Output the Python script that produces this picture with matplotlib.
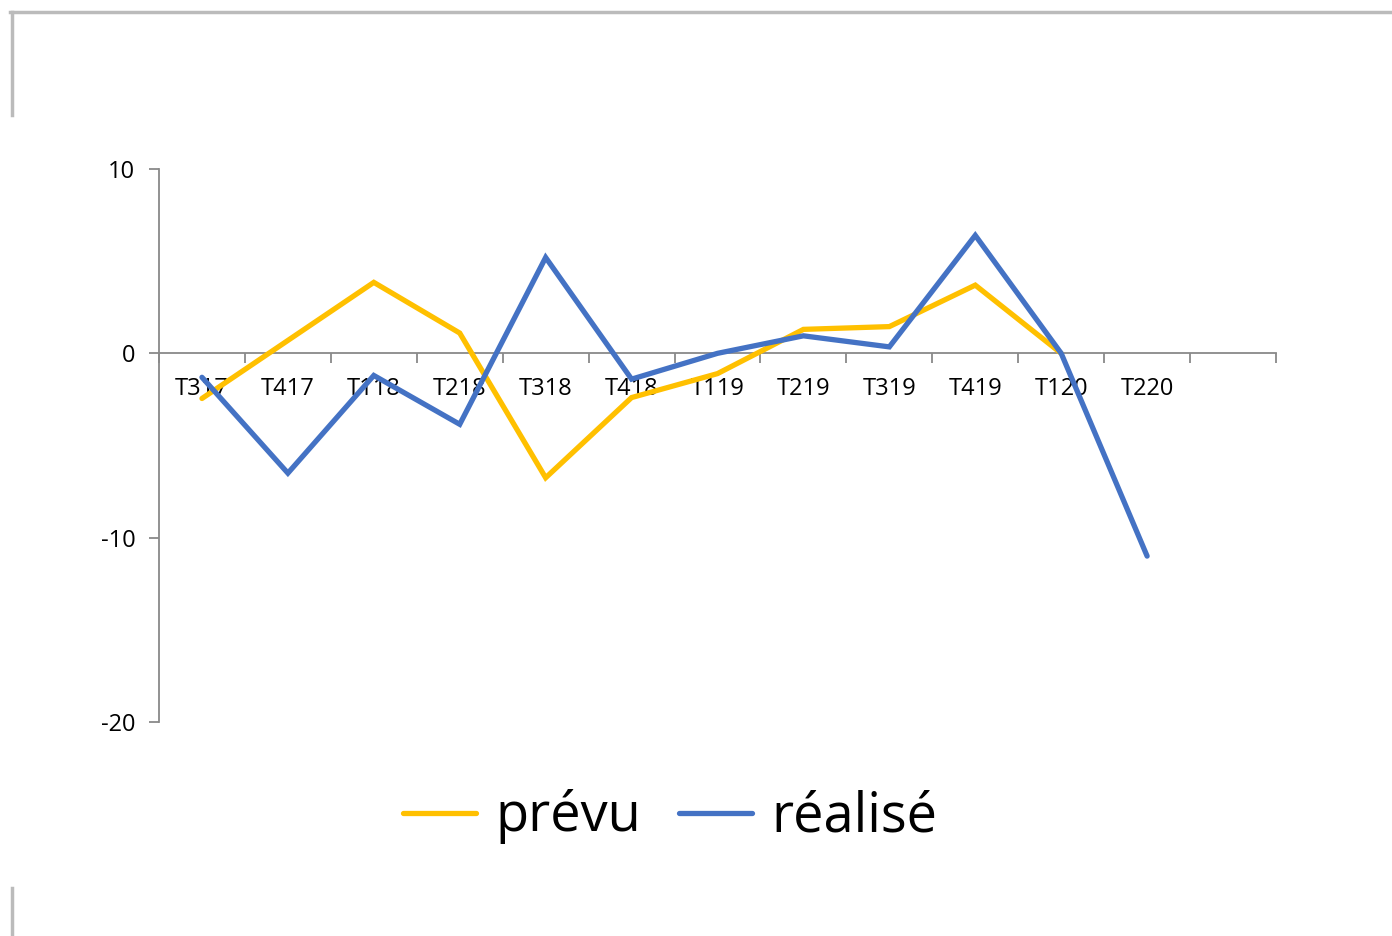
import numpy as np
import matplotlib
matplotlib.use("Agg")
import matplotlib.pyplot as plt
from matplotlib.lines import Line2D

plt.rcParams['font.family'] = ['Open Sans', 'DejaVu Sans']
plt.rcParams['axes.unicode_minus'] = False

quarters = ["T317", "T417", "T118", "T218", "T318", "T418",
            "T119", "T219", "T319", "T419", "T120", "T220", ""]
prevu = [-2.45, 0.7, 3.85, 1.1, -6.75, -2.4, -1.1, 1.3, 1.45, 3.7, 0.0]
realise = [-1.3, -6.5, -1.2, -3.85, 5.2, -1.4, 0.0, 0.95, 0.35, 6.4, 0.0, -11.0]

fig = plt.figure(figsize=(13.92, 9.36), dpi=100)
ax = fig.add_axes([159 / 1392, 1 - 722 / 936, (1276 - 159) / 1392, (722 - 169) / 936])

ax.plot(np.arange(len(prevu)), prevu, color="#FFC000", lw=3.8,
        solid_capstyle="round", solid_joinstyle="miter", label="prévu", zorder=3)
ax.plot(np.arange(len(realise)), realise, color="#4472C4", lw=3.8,
        solid_capstyle="round", solid_joinstyle="miter", label="réalisé", zorder=4)

ax.set_xlim(-0.5, len(quarters) - 0.5)
ax.set_ylim(-20, 10)
ax.set_yticks([-20, -10, 0, 10])

axis_grey = "#898989"
for s in ("top", "right"):
    ax.spines[s].set_visible(False)
ax.spines["bottom"].set_position(("data", 0))
ax.spines["bottom"].set_color(axis_grey)
ax.spines["left"].set_color(axis_grey)
ax.spines["bottom"].set_linewidth(1.3)
ax.spines["left"].set_linewidth(1.3)

ax.set_xticks(np.arange(len(quarters)))
ax.set_xticklabels(quarters)
ax.set_xticks(np.arange(len(quarters) + 1) - 0.5, minor=True)
ax.tick_params(axis="x", which="major", length=0, pad=17, labelsize=17)
ax.tick_params(axis="x", which="minor", length=7, width=1.3, color=axis_grey, direction="out")
ax.tick_params(axis="y", length=7, width=1.3, color=axis_grey, pad=10, labelsize=17)

handles = [Line2D([], [], color="#FFC000", lw=3.8, solid_capstyle="round"),
           Line2D([], [], color="#4472C4", lw=3.8, solid_capstyle="round")]
fig.legend(handles, ["prévu", "réalisé"], loc="center", ncol=2,
           bbox_to_anchor=(670 / 1392, 1 - 817 / 936), frameon=False,
           fontsize=39, handlelength=1.35, handletextpad=0.35, columnspacing=0.7)

# frame fragments around the slide
frame = "#BBBBBB"
fig.add_artist(Line2D([10 / 1392, 1], [1 - 12 / 936, 1 - 12 / 936], color=frame, lw=2.5))
fig.add_artist(Line2D([12 / 1392, 12 / 1392], [1 - 12 / 936, 1 - 115 / 936], color=frame, lw=2.5))
fig.add_artist(Line2D([12 / 1392, 12 / 1392], [1 - 888 / 936, 0], color=frame, lw=2.5))

fig.savefig("out.png", dpi=100)
